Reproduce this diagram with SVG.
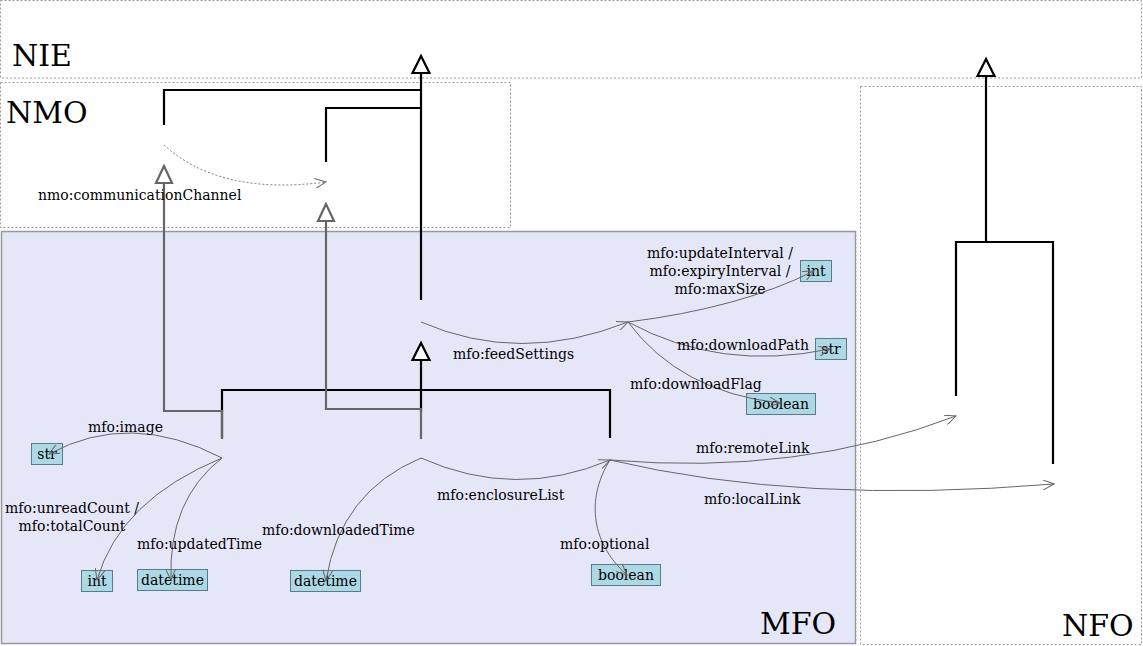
<svg xmlns="http://www.w3.org/2000/svg" width="1143" height="646" viewBox="0 0 1143 646">
<style>
text{font-family:"DejaVu Serif","Liberation Serif",serif;fill:#000}
.lbl{font-size:14px}
.pkg{font-size:30px}
.dt{font-size:14px;text-anchor:middle}
.pbox{fill:none;stroke:#999;stroke-width:1;stroke-dasharray:2,2}
.dbox{fill:#add8e6;stroke:#5a7a85;stroke-width:1}
.gen{fill:none;stroke:#000;stroke-width:2.2}
.geng{fill:none;stroke:#666;stroke-width:2.2}
.tri{fill:#fff;stroke:#000;stroke-width:2.2}
.trig{fill:#fff;stroke:#666;stroke-width:2.2}
.prop{fill:none;stroke:#666;stroke-width:1;marker-end:url(#open)}
.propd{fill:none;stroke:#777;stroke-width:1;stroke-dasharray:2,2;marker-end:url(#open)}
</style>
<defs>
<marker id="open" viewBox="0 0 12 10" refX="11" refY="5" markerWidth="12" markerHeight="10" markerUnits="userSpaceOnUse" orient="auto">
<path d="M0,0 L11,5 L0,10" fill="none" stroke="#666" stroke-width="1"/>
</marker>
</defs>
<rect width="1143" height="646" fill="#fff"/>

<g id="pkg-NIE">
<rect class="pbox" x="0.5" y="0.5" width="1141" height="77.5"/>
<text class="pkg" x="12" y="66">NIE</text>
</g>
<g id="pkg-NMO">
<rect class="pbox" x="0.5" y="82.5" width="510" height="145"/>
<text class="pkg" x="6" y="123">NMO</text>
</g>
<g id="pkg-MFO">
<rect x="1.5" y="231.5" width="854" height="412" fill="#e6e6f9" stroke="#999" stroke-width="1.5"/>
<text class="pkg" x="760" y="634">MFO</text>
</g>
<g id="pkg-NFO">
<rect class="pbox" x="860.5" y="86.5" width="281" height="558"/>
<text class="pkg" x="1062" y="636">NFO</text>
</g>

<g id="dt-str-image"><rect class="dbox" x="31.5" y="443.5" width="31" height="21"/><text class="dt" x="47" y="459">str</text></g>
<g id="dt-int-count"><rect class="dbox" x="81.5" y="570.5" width="31" height="21"/><text class="dt" x="97" y="586">int</text></g>
<g id="dt-datetime-updated"><rect class="dbox" x="137.5" y="569.5" width="70" height="21"/><text class="dt" x="172.5" y="585">datetime</text></g>
<g id="dt-datetime-downloaded"><rect class="dbox" x="290.5" y="570.5" width="70" height="21"/><text class="dt" x="325.5" y="586">datetime</text></g>
<g id="dt-boolean-optional"><rect class="dbox" x="591.5" y="564.5" width="69" height="21"/><text class="dt" x="626" y="580">boolean</text></g>
<g id="dt-int-interval"><rect class="dbox" x="800.5" y="260.5" width="31" height="21"/><text class="dt" x="816" y="276">int</text></g>
<g id="dt-str-path"><rect class="dbox" x="815.5" y="338.5" width="31" height="21"/><text class="dt" x="831" y="354">str</text></g>
<g id="dt-boolean-flag"><rect class="dbox" x="746.5" y="393.5" width="69" height="21"/><text class="dt" x="781" y="409">boolean</text></g>

<g id="connectors">
<path class="gen" d="M421,300 V72"/>
<path class="gen" d="M164,125 V90 H421"/>
<path class="gen" d="M326,162 V108 H421"/>
<polygon class="tri" points="421,56 412.5,73 429.5,73"/>
<path class="gen" d="M986,242 V76"/>
<polygon class="tri" points="986,59 977.5,76 994.5,76"/>
<path class="gen" d="M956,396 V242 H1053 V464"/>
<path class="gen" d="M222,438 V390 H610 V438"/>
<path class="gen" d="M421,412 V360"/>
<polygon class="tri" points="421,343 412.5,360 429.5,360"/>
<path class="geng" d="M222,439 V411 H164 V183"/>
<polygon class="trig" points="164,166 156,183 172,183"/>
<path class="geng" d="M421,439 V409 H326 V221"/>
<polygon class="trig" points="326,204 318,221 334,221"/>
<path class="propd" d="M164,145 Q220,196 326,182"/>
<path class="prop" d="M222,458 Q130,410 49,454"/>
<path class="prop" d="M222,458 Q120,500 97,580"/>
<path class="prop" d="M222,458 Q168,500 171,580"/>
<path class="prop" d="M421,458 Q340,492 326,581"/>
<path class="prop" d="M421,458 Q515,500 610,460"/>
<path class="prop" d="M610,460 C588,495 588,540 627,575"/>
<path class="prop" d="M610,460 Q800,476 956,416"/>
<path class="prop" d="M610,460 Q800,505 1054,484"/>
<path class="prop" d="M421,322 Q520,365 628,322"/>
<path class="prop" d="M628,322 Q740,308 814,271"/>
<path class="prop" d="M628,322 Q720,372 830,349"/>
<path class="prop" d="M628,322 Q680,392 780,403"/>
</g>

<g id="labels">
<text class="lbl" x="38" y="200">nmo:communicationChannel</text>
<text class="lbl" x="88" y="432">mfo:image</text>
<text class="lbl" x="72" y="513" text-anchor="middle">mfo:unreadCount /</text>
<text class="lbl" x="72" y="531" text-anchor="middle">mfo:totalCount</text>
<text class="lbl" x="137" y="549">mfo:updatedTime</text>
<text class="lbl" x="262" y="535">mfo:downloadedTime</text>
<text class="lbl" x="437" y="500">mfo:enclosureList</text>
<text class="lbl" x="560" y="549">mfo:optional</text>
<text class="lbl" x="453" y="359">mfo:feedSettings</text>
<text class="lbl" x="720" y="258" text-anchor="middle">mfo:updateInterval /</text>
<text class="lbl" x="720" y="276" text-anchor="middle">mfo:expiryInterval /</text>
<text class="lbl" x="720" y="294" text-anchor="middle">mfo:maxSize</text>
<text class="lbl" x="677" y="350">mfo:downloadPath</text>
<text class="lbl" x="630" y="389">mfo:downloadFlag</text>
<text class="lbl" x="696" y="453">mfo:remoteLink</text>
<text class="lbl" x="704" y="504">mfo:localLink</text>
</g>
</svg>
